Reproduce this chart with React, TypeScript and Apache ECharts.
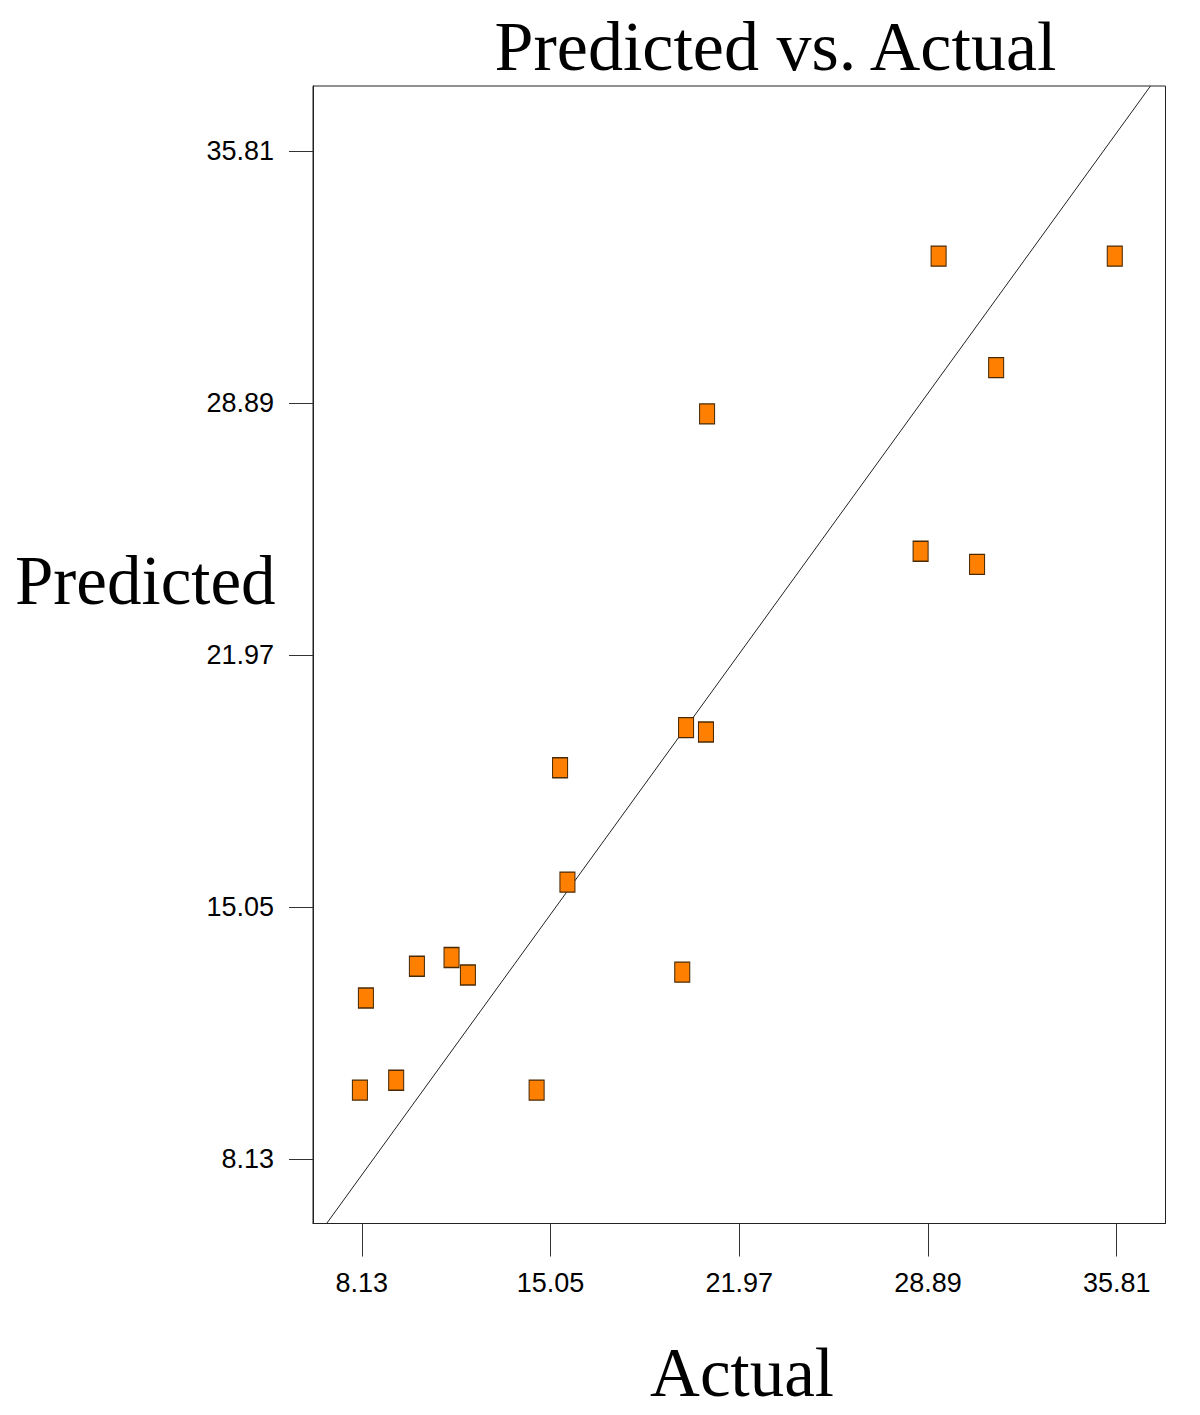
import React, { useEffect, useRef } from "react";
import * as echarts from "echarts";

const actual = [8.06, 8.28, 9.39, 10.15, 11.42, 12.02, 14.54, 15.40, 15.67, 19.88, 20.02, 20.75, 20.79, 28.62, 29.28, 30.69, 31.39, 35.74];
const predicted = [10.03, 12.56, 10.30, 13.43, 13.67, 13.19, 10.03, 18.88, 15.74, 13.27, 19.98, 19.86, 28.59, 24.82, 32.92, 24.46, 29.86, 32.92];
const tickValues = [8.13, 15.05, 21.97, 28.89, 35.81];
const fitLineX = [6.84, 37.05];
const fitLineY = [6.37, 37.59];

export default function App() {
  const ref = useRef<HTMLDivElement>(null);
  useEffect(() => {
    document.body.style.margin = "0";
    const chart = echarts.init(ref.current!, null, { renderer: "svg" });
    const points = actual.map((a, i) => [a, predicted[i]]);
    const linePts = fitLineX.map((x, i) => [x, fitLineY[i]]);
    const axisCommon = {
      type: "value",
      splitLine: { show: false },
      axisLine: { show: true, lineStyle: { color: "#222", width: 1 } },
      axisLabel: {
        customValues: tickValues,
        formatter: (v: number) => v.toFixed(2),
        color: "#000",
        fontFamily: "Liberation Sans",
        fontSize: 27,
      },
    };
    chart.setOption({
      animation: false,
      backgroundColor: "#fff",
      grid: {
        left: 313,
        top: 86,
        right: 34.5,
        bottom: 191.5,
        show: true,
        borderColor: "#222",
        borderWidth: 1,
        outerBoundsMode: "none",
        containLabel: false,
      },
      xAxis: {
        ...axisCommon,
        min: 6.34,
        max: 37.6,
        axisTick: { show: true, customValues: tickValues, length: 33, lineStyle: { color: "#333" } },
        axisLabel: { ...axisCommon.axisLabel, margin: 46 },
      },
      yAxis: {
        ...axisCommon,
        min: 6.37,
        max: 37.59,
        axisTick: { show: true, customValues: tickValues, length: 24, lineStyle: { color: "#333" } },
        axisLabel: { ...axisCommon.axisLabel, margin: 39 },
      },
      graphic: [
        {
          type: "text",
          x: 775.5,
          y: 46,
          style: { text: "Predicted vs. Actual", font: "70px 'Liberation Serif'", fill: "#000", textAlign: "center", textVerticalAlign: "middle" },
        },
        {
          type: "text",
          x: 15,
          y: 581,
          style: { text: "Predicted", font: "69px 'Liberation Serif'", fill: "#000", textAlign: "left", textVerticalAlign: "middle" },
        },
        {
          type: "text",
          x: 742,
          y: 1373,
          style: { text: "Actual", font: "69px 'Liberation Serif'", fill: "#000", textAlign: "center", textVerticalAlign: "middle" },
        },
      ],
      series: [
        {
          type: "line",
          data: linePts,
          symbol: "none",
          silent: true,
          lineStyle: { color: "#222", width: 1 },
          z: 2,
        },
        {
          type: "scatter",
          data: points,
          symbol: "rect",
          symbolSize: [15, 20],
          itemStyle: { color: "#FF8000", borderColor: "#4a2a05", borderWidth: 1.2, opacity: 1 },
          z: 3,
        },
      ],
    });
    return () => chart.dispose();
  }, []);
  return <div ref={ref} style={{ width: 1200, height: 1415 }} />;
}
